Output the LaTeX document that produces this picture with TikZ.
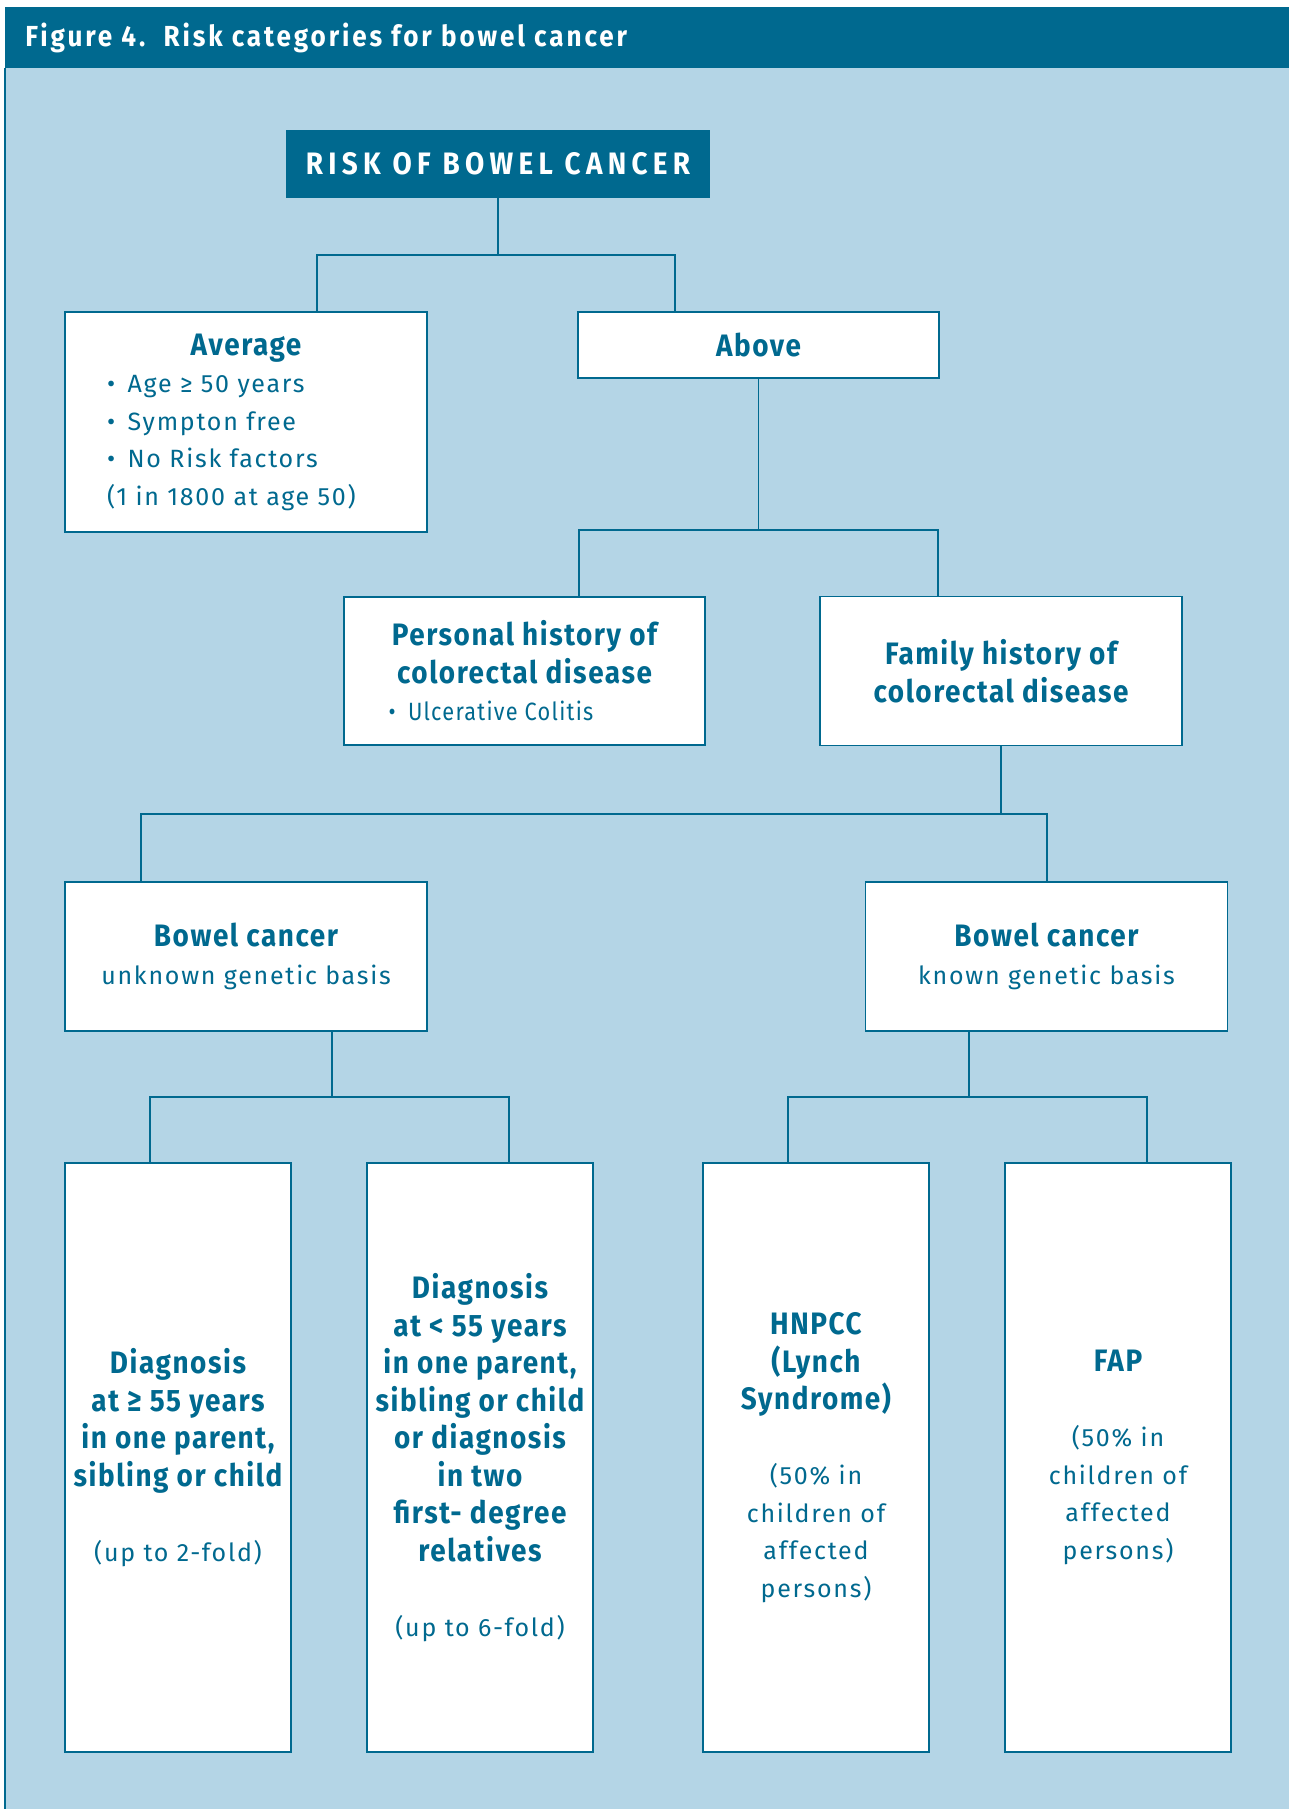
\documentclass[tikz,border=0pt]{standalone}
\usepackage{fontspec}
\setmainfont{Fira Sans}[FakeStretch=1.0, LetterSpace=7]
\newfontfamily\condfont{Fira Sans}[FakeStretch=0.9, LetterSpace=5]
\newfontfamily\titlefont{Fira Sans}[FakeStretch=0.9, LetterSpace=10]
\newfontfamily\rootfont{Fira Sans}[FakeStretch=0.9, LetterSpace=17]
\newfontfamily\narrowfont{Fira Sans}[FakeStretch=0.87, LetterSpace=5]
\definecolor{darkteal}{RGB}{0,105,143}
\definecolor{paleblue}{RGB}{180,213,230}
\newcommand{\hd}{\condfont\bfseries\fontsize{15.5}{18.75}\selectfont}
\newcommand{\hl}[1]{{\hd #1}}
\tikzstyle{box}=[draw=darkteal, line width=0.75pt, fill=white, text=darkteal, align=center, inner sep=0pt, font=\fontsize{12.5}{18.75}\selectfont]
\tikzstyle{wide}=[box, minimum width=181pt, minimum height=74.5pt]
\tikzstyle{tall}=[box, minimum width=113pt, minimum height=294.5pt]
\tikzstyle{rootbox}=[fill=darkteal, text=white, inner sep=0pt, font=\rootfont\bfseries\fontsize{15.5}{18.75}\selectfont]
\tikzstyle{link}=[draw=darkteal, line width=0.75pt]

\begin{document}
\begin{tikzpicture}[x=0.5pt,y=-0.5pt]
  \useasboundingbox (0,0) rectangle (1289,1809);
  %% Frame and title bar
  \fill[paleblue] (5,68) rectangle (1289,1809);
  \fill[darkteal] (5,7) rectangle (1289,68);
  \draw[link] (5,68) -- (5,1809);
  \draw (25,47) node[anchor=base west, text=white, font=\titlefont\bfseries\fontsize{14.5}{18}\selectfont, inner sep=0pt] (title) {Figure 4.\ \ Risk categories for bowel cancer};

  \draw (498,164) node[rootbox, minimum width=212pt, minimum height=34pt] (risk) {RISK OF BOWEL CANCER};

  \draw (246,422) node[box, minimum width=181pt, minimum height=110pt] (avg) {\hl{Average}\\
    \makebox[139pt][l]{•\enspace Age ≥ 50 years}\\
    \makebox[139pt][l]{•\enspace Sympton free}\\
    \makebox[139pt][l]{•\enspace No Risk factors}\\
    \makebox[139pt][l]{(1 in 1800 at age 50)}};
  \draw (758.5,345) node[box, minimum width=180.5pt, minimum height=33pt] (above) {\hl{Above}};

  \draw (524.5,671) node[box, minimum width=180.5pt, minimum height=74pt] (personal) {\hl{Personal history of}\\
    \hl{colorectal disease}\\
    \makebox[136pt][l]{\narrowfont •\enspace Ulcerative Colitis}};
  \draw (1001,671) node[wide] (family) {\hl{Family history of}\\ \hl{colorectal disease}};

  \draw (246,956.5) node[wide] (unknown) {\hl{Bowel cancer}\\ unknown genetic basis};
  \draw (1046.5,956.5) node[wide] (known) {\hl{Bowel cancer}\\ known genetic basis};

  \draw (178,1457.5) node[tall] (older) {\hl{Diagnosis}\\ \hl{at ≥ 55 years}\\ \hl{in one parent,}\\ \hl{sibling or child}\\[18.75pt]
    (up to 2-fold)};
  \draw (480,1457.5) node[tall] (younger) {\hl{Diagnosis}\\ \hl{at < 55 years}\\ \hl{in one parent,}\\ \hl{sibling or child}\\
    \hl{or diagnosis}\\ \hl{in two}\\ \hl{first- degree}\\ \hl{relatives}\\[18.75pt]
    (up to 6-fold)};
  \draw (816,1457.5) node[tall] (hnpcc) {\hl{HNPCC}\\ \hl{(Lynch}\\ \hl{Syndrome)}\\[18.75pt]
    (50\% in\\ children of\\ affected\\ persons)};
  \draw (1118,1457.5) node[tall] (fap) {\hl{FAP}\\[18.75pt]
    (50\% in\\ children of\\ affected\\ persons)};

  %% Connectors
  \coordinate (b1l) at (317,255);
  \coordinate (b1r) at (675,255);
  \draw[link] (risk.south) -- (risk.south |- b1l);
  \draw[link] (avg.north -| b1l) -- (b1l) -- (b1r) -- (above.north -| b1r);

  \coordinate (b2l) at (579,530);
  \coordinate (b2r) at (938,530);
  \draw[link] (above.south) -- (above.south |- b2l);
  \draw[link] (personal.north -| b2l) -- (b2l) -- (b2r) -- (family.north -| b2r);

  \coordinate (b3l) at (141,814);
  \coordinate (b3r) at (1047,814);
  \draw[link] (family.south) -- (family.south |- b3l);
  \draw[link] (unknown.north -| b3l) -- (b3l) -- (b3r) -- (known.north -| b3r);

  \coordinate (u4) at (332,1097);
  \coordinate (b4l) at (150,1097);
  \coordinate (b4r) at (509,1097);
  \draw[link] (unknown.south -| u4) -- (u4);
  \draw[link] (older.north -| b4l) -- (b4l) -- (b4r) -- (younger.north -| b4r);

  \coordinate (k5) at (969,1097);
  \coordinate (b5l) at (788,1097);
  \coordinate (b5r) at (1147,1097);
  \draw[link] (known.south -| k5) -- (k5);
  \draw[link] (hnpcc.north -| b5l) -- (b5l) -- (b5r) -- (fap.north -| b5r);
\end{tikzpicture}
\end{document}
